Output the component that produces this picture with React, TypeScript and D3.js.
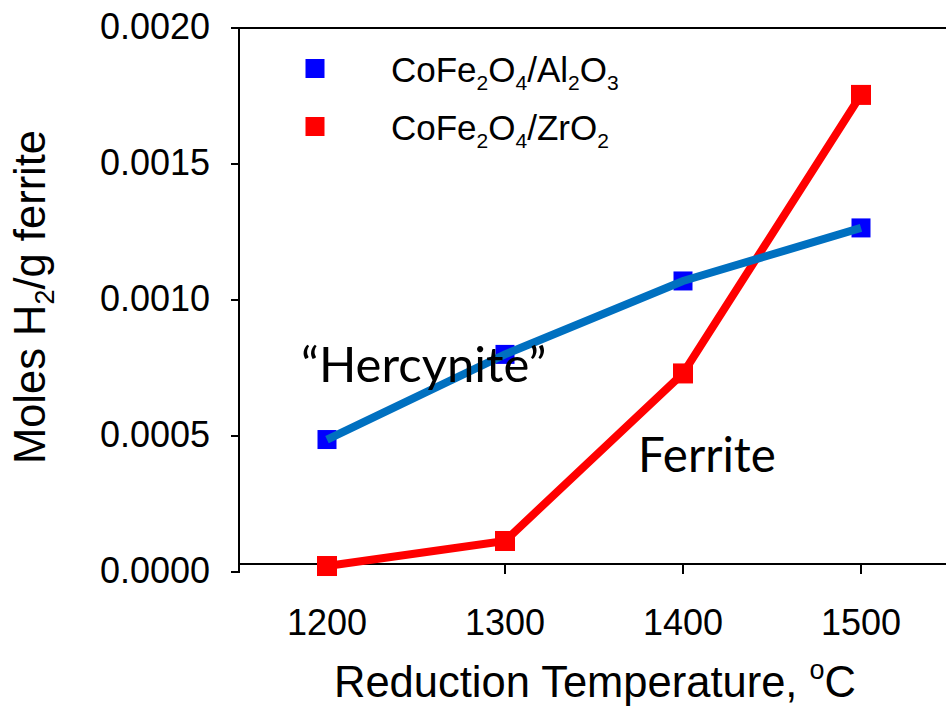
import React from "react";
import * as d3 from "d3";

const temps = [1200, 1300, 1400, 1500];
const alumina = [0.000487, 0.0008, 0.00107, 0.001265];
const zirconia = [0.000022, 0.000114, 0.00073, 0.001754];
const xTicks = [1200, 1300, 1400, 1500];
const yTicks = [0, 0.0005, 0.001, 0.0015, 0.002];
const yTickLabels = ["0.0000", "0.0005", "0.0010", "0.0015", "0.0020"];

const W = 946;
const H = 706;

export default function App() {
  const x = d3.scaleLinear().domain([1150, 1550]).range([238, 950]);
  const y = d3.scaleLinear().domain([0, 0.002]).range([572, 28]);
  const axisY = 564;
  const line = d3
    .line<[number, number]>()
    .x((d) => x(d[0]))
    .y((d) => y(d[1]));
  const blueData: [number, number][] = temps.map((t, i) => [t, alumina[i]]);
  const redData: [number, number][] = temps.map((t, i) => [t, zirconia[i]]);
  const sans = "'Liberation Sans', Arial, sans-serif";
  const cal = "Lato, 'Open Sans', sans-serif";

  return (
    <svg
      width={W}
      height={H}
      style={{ position: "absolute", left: 0, top: 0, background: "#fff" }}
    >
      <rect x={0} y={0} width={W} height={H} fill="#fff" />
      {/* axes */}
      <line x1={239} x2={239} y1={27} y2={573} stroke="#000" strokeWidth={2} />
      <line x1={231} x2={W} y1={28} y2={28} stroke="#000" strokeWidth={2} />
      <line x1={239} x2={W} y1={axisY} y2={axisY} stroke="#000" strokeWidth={2} />
      {yTicks.map((v, i) => (
        <g key={"yt" + i}>
          <line x1={231} x2={239} y1={y(v)} y2={y(v)} stroke="#000" strokeWidth={2} />
          <text
            x={210}
            y={y(v) + 11}
            textAnchor="end"
            fontFamily={sans}
            fontSize={36}
            fill="#000"
          >
            {yTickLabels[i]}
          </text>
        </g>
      ))}
      {xTicks.map((v) => (
        <g key={"xt" + v}>
          <line x1={x(v)} x2={x(v)} y1={axisY} y2={axisY + 10} stroke="#000" strokeWidth={2} />
          <text
            x={x(v)}
            y={635}
            textAnchor="middle"
            fontFamily={sans}
            fontSize={36}
            fill="#000"
          >
            {v}
          </text>
        </g>
      ))}
      {/* axis titles */}
      <text
        x={595}
        y={697}
        textAnchor="middle"
        fontFamily={sans}
        fontSize={43.5}
        fill="#000"
      >
        Reduction Temperature,{" "}
        <tspan fontSize={27} dy={-18}>o</tspan>
        <tspan dy={18}>C</tspan>
      </text>
      <text
        transform="translate(45,297) rotate(-90)"
        textAnchor="middle"
        fontFamily={sans}
        fontSize={43.5}
        fill="#000"
      >
        Moles H<tspan fontSize={27} dy={9}>2</tspan>
        <tspan dy={-9}>/g ferrite</tspan>
      </text>

      {/* red series */}
      <path d={line(redData) || ""} fill="none" stroke="#FF0000" strokeWidth={8} strokeLinejoin="miter" />
      {redData.map((d, i) => (
        <rect key={"r" + i} x={x(d[0]) - 10} y={y(d[1]) - 10} width={20} height={20} fill="#FF0000" />
      ))}
      {/* blue series */}
      {blueData.map((d, i) => (
        <rect key={"b" + i} x={x(d[0]) - 9.5} y={y(d[1]) - 9.5} width={19} height={19} fill="#0000FF" />
      ))}
      <path d={line(blueData) || ""} fill="none" stroke="#0070C0" strokeWidth={8} />

      {/* legend */}
      <rect x={305.5} y={59} width={19} height={19} fill="#0000FF" />
      <rect x={305.5} y={117} width={19} height={19} fill="#FF0000" />
      <text x={391} y={82} fontFamily={sans} fontSize={35} fill="#000">
        CoFe<tspan fontSize={21} dy={8}>2</tspan>
        <tspan dy={-8}>O</tspan>
        <tspan fontSize={21} dy={8}>4</tspan>
        <tspan dy={-8}>/Al</tspan>
        <tspan fontSize={21} dy={8}>2</tspan>
        <tspan dy={-8}>O</tspan>
        <tspan fontSize={21} dy={8}>3</tspan>
      </text>
      <text x={391} y={140} fontFamily={sans} fontSize={35} fill="#000">
        CoFe<tspan fontSize={21} dy={8}>2</tspan>
        <tspan dy={-8}>O</tspan>
        <tspan fontSize={21} dy={8}>4</tspan>
        <tspan dy={-8}>/ZrO</tspan>
        <tspan fontSize={21} dy={8}>2</tspan>
      </text>

      {/* annotations */}
      <text x={301} y={382} fontFamily={cal} fontSize={49} fill="#000">
        “Hercynite”
      </text>
      <text x={638} y={472} fontFamily={cal} fontSize={47.5} fill="#000">
        Ferrite
      </text>
    </svg>
  );
}
